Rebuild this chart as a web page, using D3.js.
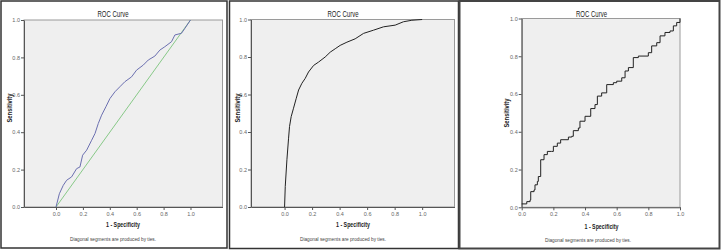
<!DOCTYPE html>
<html>
<head>
<meta charset="utf-8">
<script src="https://cdn.jsdelivr.net/npm/d3@7"></script>
<style>
  body { margin: 0; background: #fff; }
  svg text { font-family: "Liberation Sans Narrow", "Liberation Sans", Arial, sans-serif; }
</style>
</head>
<body>
<div id="wrapper"></div>
<script>
// ROC curve points: [1 - specificity, sensitivity]
const rocLeftX = [0, 0.025, 0.054, 0.079, 0.116, 0.153, 0.178, 0.198, 0.228, 0.265, 0.29, 0.314, 0.339, 0.371, 0.401, 0.438, 0.475, 0.512, 0.562, 0.599, 0.649, 0.686, 0.735, 0.772, 0.809, 0.859, 0.884, 0.933, 0.958, 1]
const rocLeftY = [0, 0.071, 0.116, 0.143, 0.161, 0.205, 0.214, 0.277, 0.304, 0.357, 0.393, 0.446, 0.491, 0.536, 0.58, 0.616, 0.643, 0.67, 0.696, 0.732, 0.759, 0.786, 0.807, 0.839, 0.857, 0.884, 0.92, 0.929, 0.955, 1]

const rocMidX = [0, 0.005, 0.017, 0.029, 0.036, 0.048, 0.065, 0.085, 0.102, 0.126, 0.15, 0.174, 0.211, 0.247, 0.295, 0.332, 0.368, 0.404, 0.453, 0.513, 0.574, 0.646, 0.719, 0.804, 0.864, 0.925, 1]
const rocMidY = [0, 0.11, 0.252, 0.367, 0.429, 0.482, 0.527, 0.58, 0.624, 0.66, 0.686, 0.72, 0.755, 0.773, 0.8, 0.826, 0.844, 0.862, 0.879, 0.897, 0.926, 0.943, 0.961, 0.97, 0.988, 0.996, 1]

const rocRightX = [0, 0.032, 0.053, 0.057, 0.078, 0.084, 0.099, 0.105, 0.116, 0.12, 0.141, 0.162, 0.189, 0.2, 0.225, 0.246, 0.295, 0.316, 0.326, 0.358, 0.368, 0.4, 0.425, 0.436, 0.463, 0.478, 0.505, 0.537, 0.579, 0.6, 0.632, 0.653, 0.674, 0.705, 0.737, 0.8, 0.821, 0.853, 0.874, 0.905, 0.937, 0.958, 0.979, 1]
const rocRightY = [0.018, 0.03, 0.039, 0.083, 0.092, 0.119, 0.137, 0.163, 0.163, 0.252, 0.279, 0.296, 0.296, 0.323, 0.34, 0.358, 0.372, 0.376, 0.406, 0.42, 0.456, 0.482, 0.482, 0.523, 0.544, 0.589, 0.606, 0.65, 0.66, 0.668, 0.686, 0.722, 0.74, 0.793, 0.801, 0.819, 0.855, 0.872, 0.908, 0.926, 0.934, 0.961, 0.979, 1]

const tickValues = [0, 0.2, 0.4, 0.6, 0.8, 1.0]
const titleText = "ROC Curve"
const xLabel = "1 - Specificity"
const yLabel = "Sensitivity"
const footText = "Diagonal segments are produced by ties."

const wrapper = d3.select("#wrapper")
    .append("svg")
    .attr("width", 721)
    .attr("height", 251)

// squeeze a label to the width it has in the picture
function label(sel, len) {
    return sel.attr("textLength", len).attr("lengthAdjust", "spacingAndGlyphs")
}

function drawPanel(p) {
    const g = wrapper.append("g")

    // panel frame
    g.append("rect")
        .attr("x", p.frame[0]).attr("y", p.frame[1])
        .attr("width", p.frame[2]).attr("height", p.frame[3])
        .attr("fill", "#fff")
        .attr("stroke", p.frameColor)
        .attr("stroke-width", p.frameWidth)

    const x = d3.scaleLinear().domain(p.xDomain).range([p.plot.left, p.plot.right])
    const y = d3.scaleLinear().domain([0, 1]).range([p.plot.bottom, p.plot.top])

    // plot background
    g.append("rect")
        .attr("x", p.plot.left).attr("y", p.plot.top)
        .attr("width", p.plot.right - p.plot.left)
        .attr("height", p.plot.bottom - p.plot.top)
        .attr("fill", "#efefef")
        .attr("stroke", "#9a9a9a")
        .attr("stroke-width", 1)

    // axes
    const yAxis = d3.axisLeft(y).tickValues(tickValues).tickFormat(d3.format(".1f")).tickSize(3).tickSizeOuter(0)
    const xAxis = d3.axisBottom(x).tickValues(tickValues).tickFormat(d3.format(".1f")).tickSize(3).tickSizeOuter(0)

    const yG = g.append("g").attr("transform", `translate(${p.plot.left},0)`).call(yAxis)
    const xG = g.append("g").attr("transform", `translate(0,${p.plot.bottom})`).call(xAxis)
    for (const ax of [xG, yG]) {
        ax.select(".domain").attr("stroke", "#555")
        ax.selectAll(".tick line").attr("stroke", "#555")
        ax.selectAll(".tick text").attr("fill", "#666").style("font-size", "5.5px")
    }
    yG.selectAll(".tick text").attr("x", -4)
    xG.selectAll(".tick text").attr("y", 5)

    // reference diagonal
    if (p.diagonal) {
        g.append("line")
            .attr("x1", x(0)).attr("y1", y(0))
            .attr("x2", x(1)).attr("y2", y(1))
            .attr("stroke", "#7cc47c")
            .attr("stroke-width", 0.9)
    }

    // ROC curve
    const pts = p.xs.map((d, i) => [d, p.ys[i]])
    g.append("path")
        .datum(pts)
        .attr("fill", "none")
        .attr("stroke", p.curveColor)
        .attr("stroke-width", 1)
        .attr("d", d3.line().x(d => x(d[0])).y(d => y(d[1])).curve(p.curve))

    // peripherals
    label(g.append("text")
        .attr("x", p.titleX).attr("y", 16.5)
        .attr("text-anchor", "middle")
        .style("font-size", "8.5px")
        .attr("fill", "#222")
        .text(titleText), 31)

    label(g.append("text")
        .attr("transform", `translate(${p.yLabelX}, ${p.yLabelY}) rotate(-90)`)
        .attr("text-anchor", "middle")
        .style("font-size", "7.5px")
        .style("font-weight", "bold")
        .attr("fill", "#222")
        .text(yLabel), 29)

    label(g.append("text")
        .attr("x", p.xLabelX).attr("y", p.xLabelY)
        .attr("text-anchor", "middle")
        .style("font-size", "7.5px")
        .style("font-weight", "bold")
        .attr("fill", "#222")
        .text(xLabel), 34)

    label(g.append("text")
        .attr("x", p.footX).attr("y", p.footY)
        .attr("text-anchor", "middle")
        .style("font-size", "6px")
        .attr("fill", "#444")
        .text(footText), 86)
}

drawPanel({
    frame: [1, 1, 226, 247], frameColor: "#333", frameWidth: 1.5,
    plot: { left: 24, right: 222.5, top: 20, bottom: 207 },
    xDomain: [-0.238, 1.238],
    xs: rocLeftX, ys: rocLeftY, curveColor: "#6b6fb0", curve: d3.curveLinear, diagonal: true,
    titleX: 113, yLabelX: 12, yLabelY: 108, xLabelX: 123, xLabelY: 227, footX: 113, footY: 241
})

drawPanel({
    frame: [229.5, 1, 229, 247.5], frameColor: "#333", frameWidth: 1.5,
    plot: { left: 251, right: 454.5, top: 19.5, bottom: 207 },
    xDomain: [-0.244, 1.235],
    xs: rocMidX, ys: rocMidY, curveColor: "#222", curve: d3.curveLinear, diagonal: false,
    titleX: 343, yLabelX: 240, yLabelY: 108, xLabelX: 353, xLabelY: 227, footX: 343, footY: 241
})

drawPanel({
    frame: [459.5, 1, 260, 247.5], frameColor: "#444", frameWidth: 2,
    plot: { left: 521.7, right: 680, top: 18.5, bottom: 207.3 },
    xDomain: [0, 1],
    xs: rocRightX, ys: rocRightY, curveColor: "#222", curve: d3.curveStepAfter, diagonal: false,
    titleX: 591.5, yLabelX: 509, yLabelY: 113, xLabelX: 601.5, xLabelY: 229, footX: 588, footY: 242
})
</script>
</body>
</html>
